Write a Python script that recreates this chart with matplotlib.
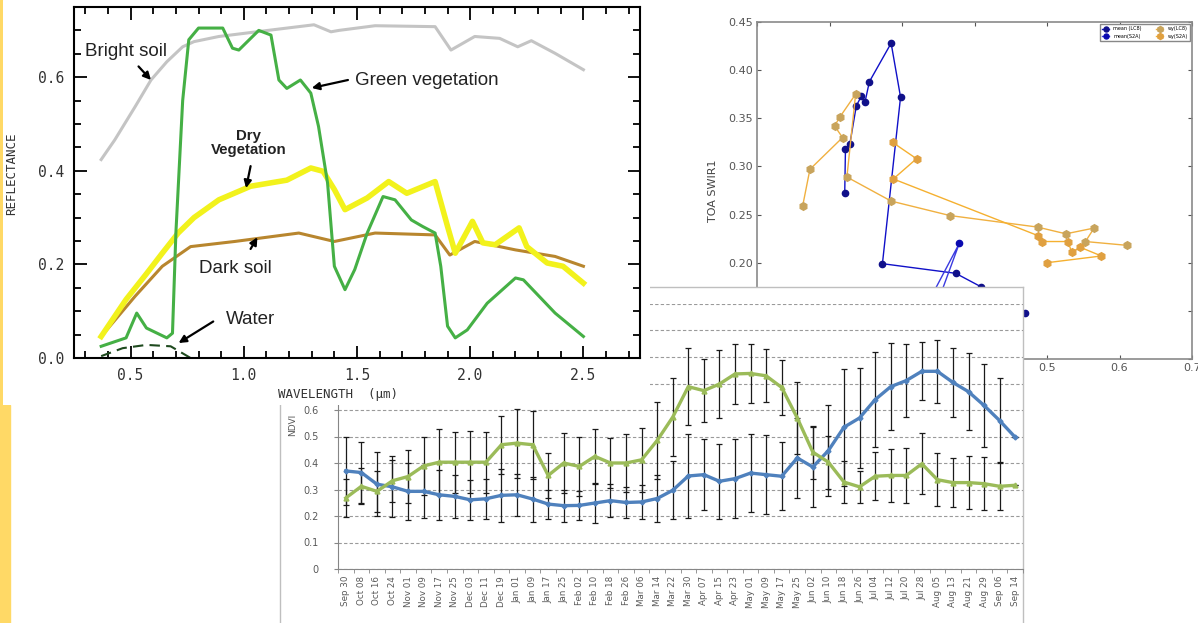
import matplotlib
matplotlib.use('Agg')
import matplotlib.pyplot as plt
from matplotlib.patches import Rectangle
from matplotlib.ticker import MultipleLocator, FuncFormatter

W, H = 1198, 623

# ---------- spectral signatures (wavelength in um, reflectance) ----------
bright_x = [0.37, 0.43, 0.52, 0.59, 0.66, 0.73, 0.78, 0.89, 1.14, 1.31, 1.385, 1.42, 1.58, 1.845, 1.915, 2.02, 2.13, 2.21, 2.27, 2.375, 2.5]
bright_y = [0.424, 0.466, 0.537, 0.594, 0.633, 0.665, 0.676, 0.687, 0.702, 0.712, 0.697, 0.700, 0.710, 0.708, 0.658, 0.687, 0.683, 0.665, 0.678, 0.651, 0.616]

green_x = [0.37, 0.48, 0.527, 0.57, 0.66, 0.685, 0.70, 0.73, 0.757, 0.80, 0.907, 0.95, 0.978, 1.066, 1.12, 1.155, 1.19, 1.25, 1.296, 1.33, 1.37, 1.40, 1.447, 1.49, 1.545, 1.615, 1.668, 1.74, 1.79, 1.845, 1.87, 1.90, 1.934, 1.987, 2.075, 2.2, 2.235, 2.375, 2.5]
green_y = [0.025, 0.043, 0.096, 0.064, 0.043, 0.053, 0.267, 0.55, 0.68, 0.705, 0.705, 0.662, 0.658, 0.700, 0.690, 0.594, 0.576, 0.594, 0.566, 0.495, 0.374, 0.196, 0.146, 0.189, 0.267, 0.345, 0.338, 0.295, 0.281, 0.267, 0.196, 0.068, 0.043, 0.060, 0.117, 0.171, 0.167, 0.096, 0.046]

dry_x = [0.37, 0.48, 0.57, 0.64, 0.71, 0.78, 0.89, 1.03, 1.19, 1.296, 1.35, 1.40, 1.447, 1.545, 1.64, 1.72, 1.845, 1.90, 1.934, 2.01, 2.056, 2.11, 2.216, 2.25, 2.34, 2.41, 2.5]
dry_y = [0.046, 0.125, 0.180, 0.224, 0.267, 0.300, 0.338, 0.367, 0.380, 0.406, 0.399, 0.360, 0.317, 0.342, 0.377, 0.352, 0.377, 0.281, 0.224, 0.292, 0.246, 0.242, 0.278, 0.238, 0.203, 0.196, 0.160]

dark_x = [0.37, 0.52, 0.64, 0.765, 0.96, 1.243, 1.40, 1.58, 1.845, 1.91, 2.02, 2.2, 2.375, 2.5]
dark_y = [0.046, 0.132, 0.196, 0.238, 0.249, 0.267, 0.249, 0.267, 0.263, 0.220, 0.249, 0.231, 0.217, 0.196]

water_x = [0.37, 0.465, 0.57, 0.677, 0.765]
water_y = [0.004, 0.021, 0.028, 0.025, 0.0]

# ---------- TOA SWIR1 scatter ----------
mean_lc8_x = [0.221, 0.222, 0.228, 0.237, 0.244, 0.249, 0.255, 0.285, 0.298, 0.273, 0.374, 0.409, 0.44, 0.469]
mean_lc8_y = [0.272, 0.318, 0.323, 0.363, 0.373, 0.367, 0.388, 0.428, 0.372, 0.199, 0.189, 0.175, 0.16, 0.148]
mean_s2a_x = [0.33, 0.379, 0.34]
mean_s2a_y = [0.150, 0.220, 0.140]
wy_lc8_x = [0.163, 0.173, 0.218, 0.207, 0.214, 0.236, 0.224, 0.285, 0.366, 0.487, 0.526, 0.565, 0.553, 0.611]
wy_lc8_y = [0.259, 0.297, 0.330, 0.342, 0.351, 0.375, 0.289, 0.264, 0.249, 0.237, 0.230, 0.236, 0.222, 0.218]
wy_s2a_x = [0.287, 0.320, 0.288, 0.488, 0.493, 0.529, 0.534, 0.546, 0.575, 0.500]
wy_s2a_y = [0.325, 0.308, 0.287, 0.228, 0.222, 0.222, 0.211, 0.216, 0.207, 0.200]

# ---------- NDVI time series ----------
dates = ['Sep 30', 'Oct 08', 'Oct 16', 'Oct 24', 'Nov 01', 'Nov 09', 'Nov 17', 'Nov 25', 'Dec 03', 'Dec 11',
         'Dec 19', 'Jan 01', 'Jan 09', 'Jan 17', 'Jan 25', 'Feb 02', 'Feb 10', 'Feb 18', 'Feb 26', 'Mar 06',
         'Mar 14', 'Mar 22', 'Mar 30', 'Apr 07', 'Apr 15', 'Apr 23', 'May 01', 'May 09', 'May 17', 'May 25',
         'Jun 02', 'Jun 10', 'Jun 18', 'Jun 26', 'Jul 04', 'Jul 12', 'Jul 20', 'Jul 28', 'Aug 05', 'Aug 13',
         'Aug 21', 'Aug 29', 'Sep 06', 'Sep 14']
ndvi_blue = [0.370, 0.364, 0.320, 0.310, 0.293, 0.293, 0.280, 0.274, 0.261, 0.265, 0.278, 0.280, 0.264, 0.245, 0.239,
             0.240, 0.249, 0.258, 0.251, 0.253, 0.266, 0.297, 0.351, 0.356, 0.331, 0.341, 0.362, 0.356, 0.350, 0.419,
             0.385, 0.447, 0.535, 0.570, 0.639, 0.688, 0.711, 0.746, 0.746, 0.704, 0.669, 0.617, 0.560, 0.497]
ndvi_blue_err = [0.13, 0.115, 0.12, 0.115, 0.107, 0.10, 0.095, 0.08, 0.075, 0.075, 0.10, 0.08, 0.085, 0.055, 0.06,
                 0.055, 0.075, 0.062, 0.06, 0.065, 0.09, 0.11, 0.157, 0.135, 0.141, 0.15, 0.148, 0.15, 0.128, 0.15,
                 0.15, 0.17, 0.22, 0.19, 0.18, 0.163, 0.137, 0.11, 0.12, 0.13, 0.145, 0.156, 0.16, 0.0]
ndvi_green = [0.268, 0.312, 0.293, 0.333, 0.349, 0.389, 0.403, 0.403, 0.403, 0.403, 0.469, 0.475, 0.469, 0.353, 0.400,
              0.387, 0.425, 0.400, 0.400, 0.412, 0.485, 0.573, 0.688, 0.673, 0.698, 0.736, 0.738, 0.729, 0.685, 0.570,
              0.441, 0.403, 0.328, 0.310, 0.350, 0.353, 0.353, 0.397, 0.337, 0.326, 0.326, 0.322, 0.312, 0.316]
ndvi_green_err = [0.07, 0.068, 0.077, 0.08, 0.10, 0.108, 0.125, 0.115, 0.118, 0.115, 0.11, 0.13, 0.128, 0.085, 0.115,
                  0.11, 0.103, 0.096, 0.11, 0.12, 0.144, 0.147, 0.145, 0.12, 0.128, 0.112, 0.11, 0.10, 0.105, 0.137,
                  0.10, 0.10, 0.08, 0.06, 0.09, 0.10, 0.105, 0.115, 0.10, 0.093, 0.10, 0.10, 0.09, 0.0]


def box(x0, y0, x1, y1):
    # pixel box (top-left origin) -> figure fraction rect
    return [x0 / W, 1 - y1 / H, (x1 - x0) / W, (y1 - y0) / H]


fig = plt.figure(figsize=(W / 100, H / 100), dpi=100)
fig.patch.set_facecolor('white')

# yellow strip on the left
fig.patches.append(Rectangle((0, 1 - 405 / H), 3 / W, 405 / H, transform=fig.transFigure, color='#FFD966', zorder=0))
fig.patches.append(Rectangle((0, 0), 10 / W, 218 / H, transform=fig.transFigure, color='#FFD966', zorder=0))

# ---------------- scatter (back) ----------------
axs = fig.add_axes(box(757, 22, 1192, 359), zorder=1)
axs.plot(mean_lc8_x, mean_lc8_y, '-o', color='#1010C8', ms=4.5, lw=1, mfc='#10108A', mec='#10108A', label='mean (LC8)')
axs.plot(mean_s2a_x, mean_s2a_y, '-o', color='#3A3AE0', ms=4.5, lw=1, mfc='#0A0AB0', mec='#0A0AB0', label='mean(S2A)')
axs.plot(wy_lc8_x, wy_lc8_y, '-h', color='#F0B040', ms=5.5, lw=1, mfc='#C8A45C', mec='#C8A45C', label='wy(LC8)')
axs.plot(wy_s2a_x, wy_s2a_y, '-h', color='#F5B030', ms=5.5, lw=1, mfc='#E0A040', mec='#E0A040', label='wy(S2A)')
axs.set_xlim(0.1, 0.7)
axs.set_ylim(0.10, 0.45)
axs.xaxis.set_major_locator(MultipleLocator(0.1))
axs.yaxis.set_major_locator(MultipleLocator(0.05))
axs.xaxis.set_major_formatter(FuncFormatter(lambda v, p: f'{v:.1f}'))
axs.yaxis.set_major_formatter(FuncFormatter(lambda v, p: f'{v:.2f}'))
axs.tick_params(direction='in', top=True, right=True, length=3, labelsize=8, colors='#555555', pad=3)
for s in axs.spines.values():
    s.set_color('#8a8a8a')
    s.set_linewidth(1.2)
axs.set_ylabel('TOA SWIR1', fontsize=8, color='#444444')
axs.yaxis.set_label_coords(-0.09, 0.5)
leg = axs.legend(loc='upper right', ncol=2, fontsize=3.5, markerscale=0.8, handlelength=1.5,
                 borderpad=0.4, columnspacing=3, fancybox=False, framealpha=1)
leg.get_frame().set_edgecolor('#888888')

# ---------------- NDVI panel (middle) ----------------
axbg = fig.add_axes(box(280, 287, 1023, 640), zorder=2)
axbg.set_xticks([])
axbg.set_yticks([])
for s in axbg.spines.values():
    s.set_color('#BFBFBF')
    s.set_linewidth(1)

axn = fig.add_axes(box(338, 304, 1023, 569), zorder=3)
axn.patch.set_alpha(0)
xs = list(range(len(dates)))
axn.errorbar(xs, ndvi_blue, yerr=ndvi_blue_err, fmt='none', ecolor='#1a1a1a', elinewidth=0.9, capsize=2.2, capthick=0.9, zorder=2)
axn.errorbar(xs, ndvi_green, yerr=ndvi_green_err, fmt='none', ecolor='#1a1a1a', elinewidth=0.9, capsize=2.2, capthick=0.9, zorder=2)
axn.plot(xs, ndvi_blue, '-D', color='#4F81BD', lw=2.4, ms=2.5, zorder=3)
axn.plot(xs, ndvi_green, '-^', color='#9BBB59', lw=2.4, ms=3.5, zorder=3)
axn.set_xlim(-0.5, len(dates) - 0.5)
axn.set_ylim(0, 1.0)
axn.set_yticks([i / 10 for i in range(11)])
axn.yaxis.set_major_formatter(FuncFormatter(lambda v, p: '0' if v == 0 else f'{v:.1f}'))
axn.yaxis.grid(True, linestyle=(0, (3, 2)), color='#9a9a9a', lw=0.8)
axn.set_xticks(xs)
axn.set_xticklabels(dates, rotation=90, fontsize=6.3, color='#595959')
axn.set_xticks([i - 0.5 for i in range(len(dates) + 1)], minor=True)
axn.tick_params(axis='x', which='major', length=0, pad=5)
axn.tick_params(axis='x', which='minor', length=3, color='#868686')
axn.tick_params(axis='y', length=3, color='#868686', labelsize=7, labelcolor='#595959', pad=11)
for side in ['top', 'right']:
    axn.spines[side].set_visible(False)
for side in ['left', 'bottom']:
    axn.spines[side].set_color('#868686')
fig.text(293 / W, 1 - 425 / H, 'NDVI', rotation=90, fontsize=6.5, color='#595959', ha='center', va='center', zorder=4)

# ---------------- spectral chart (front) ----------------
axbg2 = fig.add_axes(box(3, 0, 650, 405), zorder=4)
axbg2.axis('off')
axbg2.add_patch(Rectangle((0, 0), 1, 1, transform=axbg2.transAxes, color='white'))

ax = fig.add_axes(box(74, 7, 640, 358), zorder=5)
ax.plot(bright_x, bright_y, color='#C4C4C4', lw=2.2)
ax.plot(dark_x, dark_y, color='#B8862E', lw=2.2)
ax.plot(dry_x, dry_y, color='#F2F21C', lw=4)
ax.plot(green_x, green_y, color='#45B045', lw=2.2)
ax.plot(water_x, water_y, color='#1E4A1E', lw=1.5, ls=(0, (5, 3)))
ax.set_xlim(0.25, 2.75)
ax.set_ylim(0, 0.75)
ax.xaxis.set_major_locator(MultipleLocator(0.5))
ax.xaxis.set_minor_locator(MultipleLocator(0.1))
ax.yaxis.set_major_locator(MultipleLocator(0.2))
ax.yaxis.set_minor_locator(MultipleLocator(0.05))
ax.xaxis.set_major_formatter(FuncFormatter(lambda v, p: f'{v:.1f}'))
ax.yaxis.set_major_formatter(FuncFormatter(lambda v, p: f'{v:.1f}'))
ax.tick_params(which='both', direction='in', top=True, right=True, width=1.3)
ax.tick_params(which='major', length=9)
ax.tick_params(which='minor', length=5)
ax.tick_params(axis='x', pad=7)
ax.tick_params(axis='y', pad=7)
for lab in ax.get_xticklabels() + ax.get_yticklabels():
    lab.set_family('DejaVu Sans Mono')
    lab.set_fontsize(10.5)
    lab.set_color('#333333')
for s in ax.spines.values():
    s.set_linewidth(1.5)
ax.set_xlabel('WAVELENGTH  (\u00b5m)', family='DejaVu Sans Mono', fontsize=9, color='#333333')
ax.xaxis.set_label_coords((338 - 74) / 566, -(388 - 358) / 351)
ax.set_ylabel('REFLECTANCE', family='DejaVu Sans Mono', fontsize=9, color='#333333')
ax.yaxis.set_label_coords(-(74 - 18) / 566, (358 - 174) / 351)

arrow = dict(arrowstyle='-|>', color='black', lw=1.6, mutation_scale=11, shrinkA=0, shrinkB=0)
txt = dict(family='Liberation Sans', fontsize=13.5, color='#222222')
ax.text(0.298, 0.655, 'Bright soil', va='center', **txt)
ax.annotate('', xy=(0.59, 0.594), xytext=(0.535, 0.623), arrowprops=arrow)
ax.text(1.49, 0.592, 'Green vegetation', va='center', **txt)
ax.annotate('', xy=(1.30, 0.577), xytext=(1.46, 0.594), arrowprops=arrow)
ax.text(1.022, 0.459, 'Dry\nVegetation', ha='center', va='center', family='Liberation Sans', fontsize=10.8,
        fontweight='bold', color='#222222', linespacing=1.0)
ax.annotate('', xy=(1.01, 0.363), xytext=(1.03, 0.41), arrowprops=arrow)
ax.text(0.80, 0.192, 'Dark soil', va='center', **txt)
ax.annotate('', xy=(1.06, 0.258), xytext=(1.03, 0.233), arrowprops=arrow)
ax.text(0.92, 0.082, 'Water', va='center', **txt)
ax.annotate('', xy=(0.712, 0.032), xytext=(0.865, 0.078), arrowprops=arrow)

fig.savefig('out.png', dpi=100)
